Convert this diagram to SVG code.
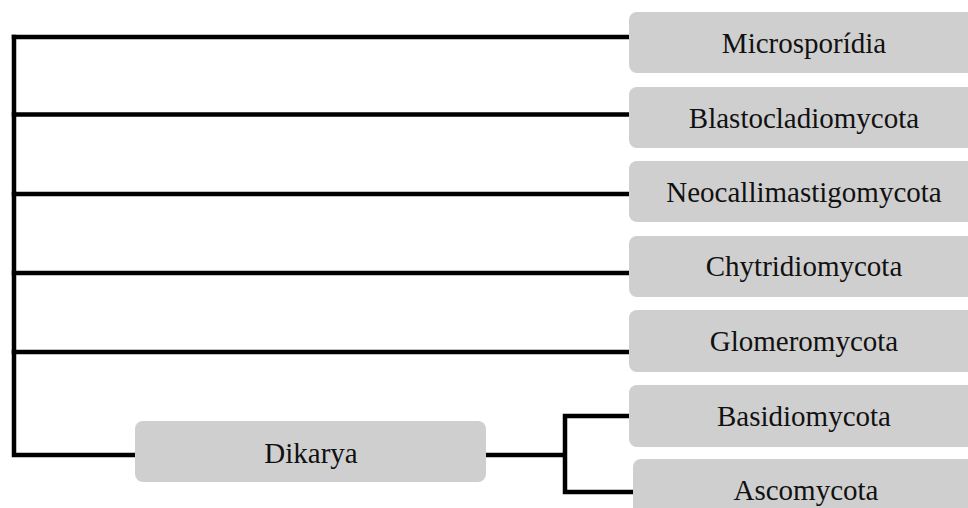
<svg xmlns="http://www.w3.org/2000/svg" width="968" height="508" viewBox="0 0 968 508">
<style>
.box{fill:#d0cfd0;}
.lbl{font-family:"Liberation Serif","Times New Roman",serif;font-size:29px;fill:#111;text-anchor:middle;}
.ln{stroke:#000;stroke-width:4.5;fill:none;stroke-linecap:square;}
</style>
<rect width="968" height="508" fill="#fff"/>
<g id="connectors">
<path class="ln" d="M14,37 V455 H133"/>
<path class="ln" d="M14,37 H629 M14,114.5 H629 M14,194 H629 M14,273 H629 M14,352 H629"/>
<path class="ln" d="M488,455 H565 M565,416 V492 M565,416 H629 M565,492 H633"/>
</g>
<g id="n-microsporidia"><rect class="box" x="629" y="12" width="360" height="61" rx="8"/><text class="lbl" x="804" y="53">Microsporídia</text></g>
<g id="n-blastocladiomycota"><rect class="box" x="629" y="87" width="360" height="61" rx="8"/><text class="lbl" x="804" y="128">Blastocladiomycota</text></g>
<g id="n-neocallimastigomycota"><rect class="box" x="629" y="161" width="360" height="61" rx="8"/><text class="lbl" x="804" y="202">Neocallimastigomycota</text></g>
<g id="n-chytridiomycota"><rect class="box" x="629" y="236" width="360" height="61" rx="8"/><text class="lbl" x="804" y="276">Chytridiomycota</text></g>
<g id="n-glomeromycota"><rect class="box" x="629" y="310" width="360" height="62" rx="8"/><text class="lbl" x="804" y="351">Glomeromycota</text></g>
<g id="n-basidiomycota"><rect class="box" x="629" y="385" width="360" height="62" rx="8"/><text class="lbl" x="804" y="426">Basidiomycota</text></g>
<g id="n-ascomycota"><rect class="box" x="633" y="459" width="360" height="62" rx="8"/><text class="lbl" x="806" y="500">Ascomycota</text></g>
<g id="n-dikarya"><rect class="box" x="135" y="421" width="351" height="61" rx="8"/><text class="lbl" x="311" y="463">Dikarya</text></g>
</svg>
